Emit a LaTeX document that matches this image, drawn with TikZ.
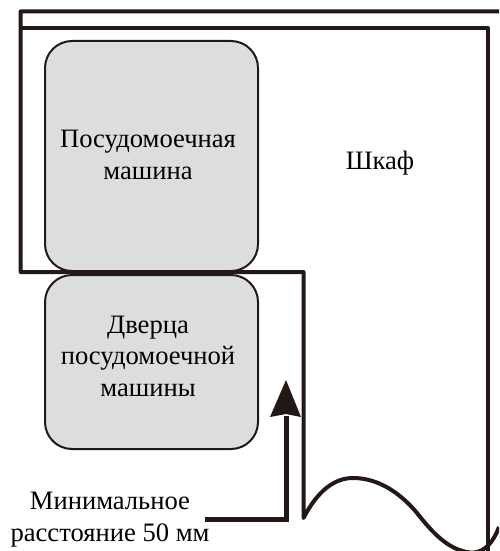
\documentclass[tikz,border=0pt]{standalone}
\usepackage{fontspec}
\setmainfont{Liberation Serif}
\definecolor{ink}{HTML}{231815}
\definecolor{panel}{HTML}{DCDEDE}
\tikzset{
  x=1pt,y=-1pt,
  unit/.style={draw=ink,fill=panel,line width=2pt,rounded corners=27pt},
  wall/.style={draw=ink,line width=4pt,line join=round},
  label/.style={align=center,font=\fontsize{26.6}{31.5}\selectfont,text=black,inner sep=0pt},
  pointer/.style={draw=ink,line width=5pt,line join=miter}
}
\begin{document}
\begin{tikzpicture}
\useasboundingbox (0,0) rectangle (499,551);
\begin{scope}
\clip (0,0) rectangle (499,551);
\draw[unit] (45,41) rectangle (258,271);
\draw[unit] (45,275) rectangle (258,449);
\draw[wall] (499,11.5) -- (20.5,11.5) -- (20.5,272) -- (303.5,272) -- (303.5,518)
  .. controls (318,490) and (335,478) .. (353,478)
  .. controls (380,478) and (402,495) .. (417,513)
  .. controls (432,532) and (448,550) .. (470,552.5)
  .. controls (480,553.5) and (491,548) .. (499,527);
\draw[wall] (20.5,27.7) -- (487.5,27.7) -- (487.5,551);
\end{scope}
\node[label] (washer) at (148,155) {Посудомоечная\\машина};
\node[label] (door) at (148,356) {Дверца\\посудомоечной\\машины};
\node[label] (cabinet) at (380,163) {Шкаф};
\node[label] (gap) at (110,519.5) {Минимальное\\расстояние 50 мм};
\coordinate (start) at (205,519.5);
\coordinate (corner) at (286,519.5);
\coordinate (tipbase) at (286,416);
\coordinate (tip) at (286,380);
\draw[pointer] (start) -- (corner) -- (tipbase);
\fill[ink] (tip) -- (301,417) -- (286,414) -- (270,417) -- cycle;
\end{tikzpicture}
\end{document}
